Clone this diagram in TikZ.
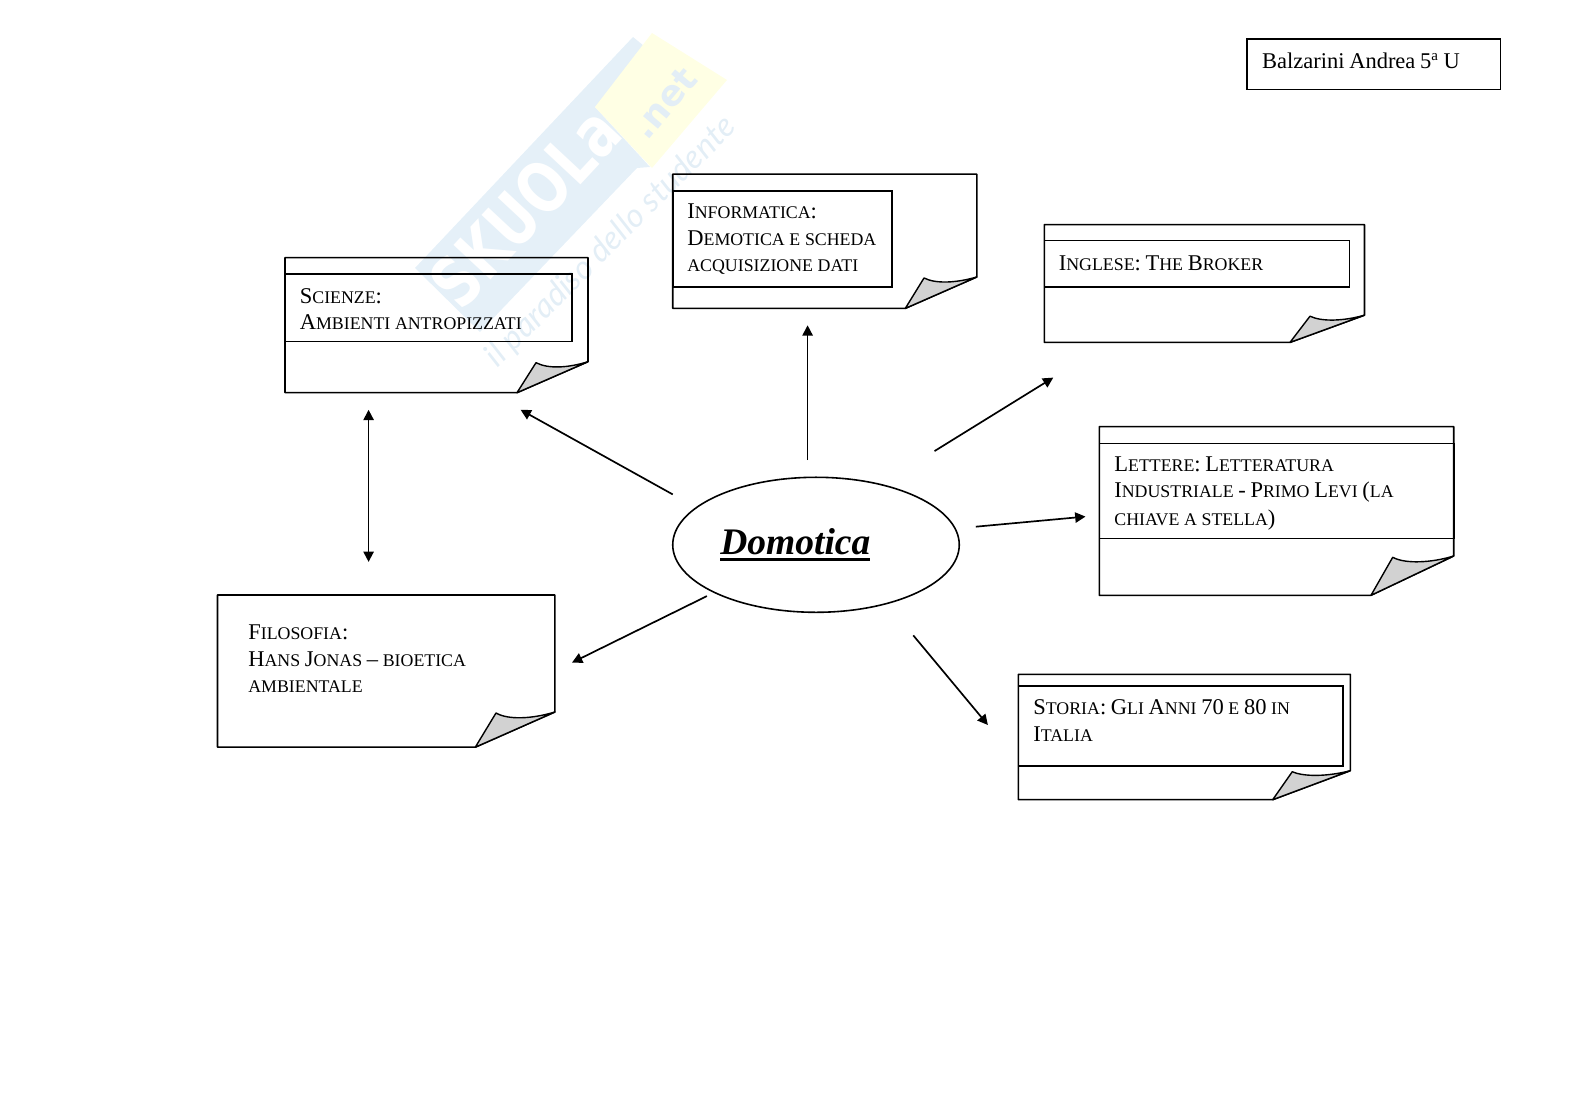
\documentclass[tikz,border=0pt]{standalone}
\usepackage{fontspec}
\setmainfont{Liberation Serif}
\newfontfamily\wmsans{DejaVu Sans}
\newfontfamily\wmscript{Lato}
\usetikzlibrary{arrows.meta,shapes.geometric}
\definecolor{wmblue}{HTML}{E5F0F8}
\definecolor{wmyellow}{HTML}{FFFFE4}
\definecolor{wmtext}{HTML}{E3EEF6}
\definecolor{foldgray}{HTML}{D2D2D2}
\newcommand{\pc}[1]{{\fontsize{9.5}{14}\selectfont #1}}
\newcommand{\labelfont}{\fontsize{12}{14}\selectfont\spaceskip 2.5pt\relax}
\tikzset{
    page/.style={draw=black, line width=0.85pt, line join=round},
    foldcorner/.style={draw=black, fill=foldgray, line width=0.75pt, line join=round},
    band/.style={draw=black, line width=0.85pt},
    label/.style={anchor=base west, inner sep=0pt, align=left, font=\labelfont},
    conn/.style={black, line width=0.9pt, -{Triangle[length=5.5pt,width=5.5pt]}},
    bothconn/.style={black, line width=0.9pt, {Triangle[length=5.5pt,width=5.5pt]}-{Triangle[length=5.5pt,width=5.5pt]}}
}
\begin{document}
\begin{tikzpicture}[x=0.5333pt, y=-0.5333pt]
    \useasboundingbox (0,0) rectangle (1579,1116);

    % watermark
    \fill[wmblue] (415,268) -- (633,37) -- (655,55) -- (595,107) -- (650,167) -- (637,168) -- (480,332) -- cycle;
    \fill[wmyellow] (652,33) -- (727,80) -- (652,168) -- (595,107) -- cycle;
    \node[rotate=47, text=white, font=\wmsans\bfseries\fontsize{37}{37}\selectfont, inner sep=0pt] (skuola) at (525,207) {\scalebox{0.78}[1]{SKUOLa}};
    \node[rotate=50, text=wmtext, font=\wmsans\bfseries\fontsize{19}{19}\selectfont, inner sep=0pt] (dotnet) at (664,103) {.net};
    \node[rotate=45, text=wmtext, font=\wmscript\itshape\fontsize{17.5}{17.5}\selectfont, inner sep=0pt] (motto) at (611,242) {il paradiso dello studente};

    % author box
    \draw[band] (1246.7,39.3) rectangle (1500.4,89.6);
    \node[label] (autore) at (1261.7,68.3) {Balzarini Andrea 5\textsuperscript{a} U};

    % scienze
    \draw[page] (285,257.7) -- (588,257.7) -- (588,361.7) -- (517,392.7) -- (285,392.7) -- cycle;
    \filldraw[foldcorner] (517,392.7) -- (536,362.7) .. controls (548,369) and (568,368) .. (588,361.7) -- cycle;
    \draw[band] (285,274.3) rectangle (571.7,341.7);
    \node[label] (scienze) at (299.5,330) {S\pc{CIENZE}:\\A\pc{MBIENTI ANTROPIZZATI}};

    % informatica
    \draw[page] (672.7,174.2) -- (976.8,174.2) -- (976.8,277) -- (905.3,308.4) -- (672.7,308.4) -- cycle;
    \filldraw[foldcorner] (905.3,308.4) -- (924,278) .. controls (936,284) and (956,283) .. (976.8,277) -- cycle;
    \draw[band] (672.7,190.8) rectangle (892.2,286.8);
    \node[label] (informatica) at (687,271.5) {I\pc{NFORMATICA}:\\D\pc{EMOTICA E SCHEDA}\\\pc{ACQUISIZIONE DATI}};

    % inglese
    \draw[page] (1044.3,224.6) -- (1364.5,224.6) -- (1364.5,315.2) -- (1290,342.4) -- (1044.3,342.4) -- cycle;
    \filldraw[foldcorner] (1290,342.4) -- (1310,316.2) .. controls (1322,322) and (1344,321) .. (1364.5,315.2) -- cycle;
    \draw[band] (1044.3,240.7) rectangle (1349.4,287);
    \node[label] (inglese) at (1058.5,271) {I\pc{NGLESE}: T\pc{HE} B\pc{ROKER}};

    % lettere
    \draw[page] (1099.3,426.7) -- (1453.7,426.7) -- (1453.7,556) -- (1371,595.3) -- (1099.3,595.3) -- cycle;
    \filldraw[foldcorner] (1371,595.3) -- (1392.7,557.3) .. controls (1405,564) and (1431,563) .. (1453.7,556) -- cycle;
    \draw[band] (1099.3,443.7) rectangle (1453.7,538.3);
    \node[label] (lettere) at (1114,525.7) {L\pc{ETTERE}: L\pc{ETTERATURA}\\I\pc{NDUSTRIALE} - P\pc{RIMO} L\pc{EVI} (\pc{LA}\\[1pt]\pc{CHIAVE A STELLA})};

    % filosofia
    \draw[page] (217.5,595) -- (554.9,595) -- (554.9,712) -- (475.3,747.2) -- (217.5,747.2) -- cycle;
    \filldraw[foldcorner] (475.3,747.2) -- (496,713) .. controls (508,720) and (532,719) .. (554.9,712) -- cycle;
    \node[label] (filosofia) at (248,692.5) {F\pc{ILOSOFIA}:\\H\pc{ANS} J\pc{ONAS} -- \pc{BIOETICA}\\\pc{AMBIENTALE}};

    % storia
    \draw[page] (1018.3,674.3) -- (1350.3,674.3) -- (1350.3,770.7) -- (1272.7,799.7) -- (1018.3,799.7) -- cycle;
    \filldraw[foldcorner] (1272.7,799.7) -- (1292.3,771.7) .. controls (1304,777) and (1328,776.5) .. (1350.3,770.7) -- cycle;
    \draw[band] (1018.3,686) rectangle (1343,766);
    \node[label] (storia) at (1033,741) {S\pc{TORIA}: G\pc{LI} A\pc{NNI} 70 \pc{E} 80 \pc{IN}\\I\pc{TALIA}};

    % centre
    \node[draw=black, line width=0.85pt, ellipse, minimum width=152.8pt, minimum height=72pt, inner sep=0pt] (domotica) at (816,544.8) {};
    \node[anchor=base west, inner sep=0pt, font=\fontsize{20}{24}\selectfont\bfseries\itshape] (titolo) at (720,555) {Domotica};
    \draw[line width=1.6pt] (titolo.base west) ++(0,5) -- ++(150,0);

    % arrow ends
    \coordinate (dS) at (672.7,494.4);
    \coordinate (eS) at (520.6,409.8);
    \coordinate (dI) at (807.6,460.2);
    \coordinate (eI) at (807.6,325.3);
    \coordinate (dG) at (934.5,451.1);
    \coordinate (eG) at (1053.3,377.6);
    \coordinate (dL) at (975.8,526.7);
    \coordinate (eL) at (1085.5,516.6);
    \coordinate (dT) at (913.3,635.4);
    \coordinate (eT) at (987.9,725);
    \coordinate (dF) at (706.9,596.1);
    \coordinate (eF) at (572,662.6);
    \coordinate (aS) at (368.6,409.8);
    \coordinate (aF) at (368.6,561.9);

    \draw[conn] (dS) -- (eS);
    \draw[conn] (dI) -- (eI);
    \draw[conn] (dG) -- (eG);
    \draw[conn] (dL) -- (eL);
    \draw[conn] (dT) -- (eT);
    \draw[conn] (dF) -- (eF);
    \draw[bothconn] (aS) -- (aF);
\end{tikzpicture}
\end{document}
